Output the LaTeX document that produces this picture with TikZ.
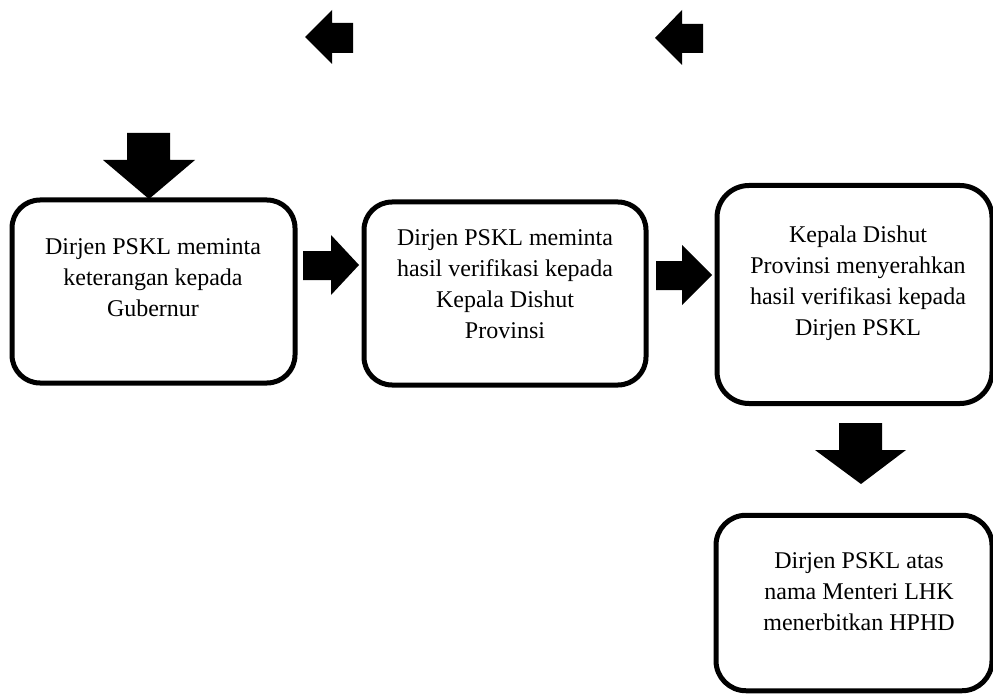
\documentclass[tikz,border=0pt]{standalone}
\usepackage{fontspec}
\setmainfont{Liberation Serif}
\begin{document}
\begin{tikzpicture}[x=1pt,y=-1pt,
  procbox/.style={draw=black, line width=5pt, rounded corners=28pt, fill=white, inner sep=0pt},
  boxtext/.style={inner sep=0pt, align=center, font=\fontsize{24}{31}\selectfont,
    execute at begin node=\strut, execute at end node=\strut},
  blockarrow/.style={fill=black, draw=none}]
\useasboundingbox (0,0) rectangle (993,695);
% boxes
\node[procbox, minimum width=283pt, minimum height=183pt] (b1) at (153.5,291.5) {};
\node[procbox, minimum width=282pt, minimum height=183pt] (b2) at (505,293.5) {};
\node[procbox, minimum width=275pt, minimum height=218pt, rounded corners=32pt] (b3) at (854.5,294.5) {};
\node[procbox, minimum width=276pt, minimum height=175.5pt, rounded corners=30pt] (b4) at (854,603) {};
% texts
\node[boxtext] (t1) at (153,281.8) {Dirjen PSKL meminta\\keterangan kepada\\Gubernur};
\node[boxtext] (t2) at (505,288.8) {Dirjen PSKL meminta\\hasil verifikasi kepada\\Kepala Dishut\\Provinsi};
\node[boxtext] (t3) at (858,285.8) {Kepala Dishut\\Provinsi menyerahkan\\hasil verifikasi kepada\\Dirjen PSKL};
\node[boxtext] (t4) at (859,595.8) {Dirjen PSKL atas\\nama Menteri LHK\\menerbitkan HPHD};
% block arrows
\fill[blockarrow] (305,37) -- (332,10) -- (332,23) -- (353,23) -- (353,53) -- (332,53) -- (332,64) -- cycle;
\fill[blockarrow] (655,38) -- (682,10) -- (682,24) -- (703,24) -- (703,53) -- (682,53) -- (682,65) -- cycle;
\fill[blockarrow] (149,199) -- (103,160) -- (127,160) -- (127,133) -- (170,133) -- (170,160) -- (195,160) -- cycle;
\fill[blockarrow] (861,484) -- (815,450) -- (839,450) -- (839,423) -- (882,423) -- (882,450) -- (906,450) -- cycle;
\fill[blockarrow] (359,265) -- (331,235) -- (331,251) -- (303,251) -- (303,280) -- (331,280) -- (331,295) -- cycle;
\fill[blockarrow] (712,275) -- (682,245) -- (682,261) -- (656,261) -- (656,290) -- (682,290) -- (682,305) -- cycle;
\end{tikzpicture}
\end{document}
